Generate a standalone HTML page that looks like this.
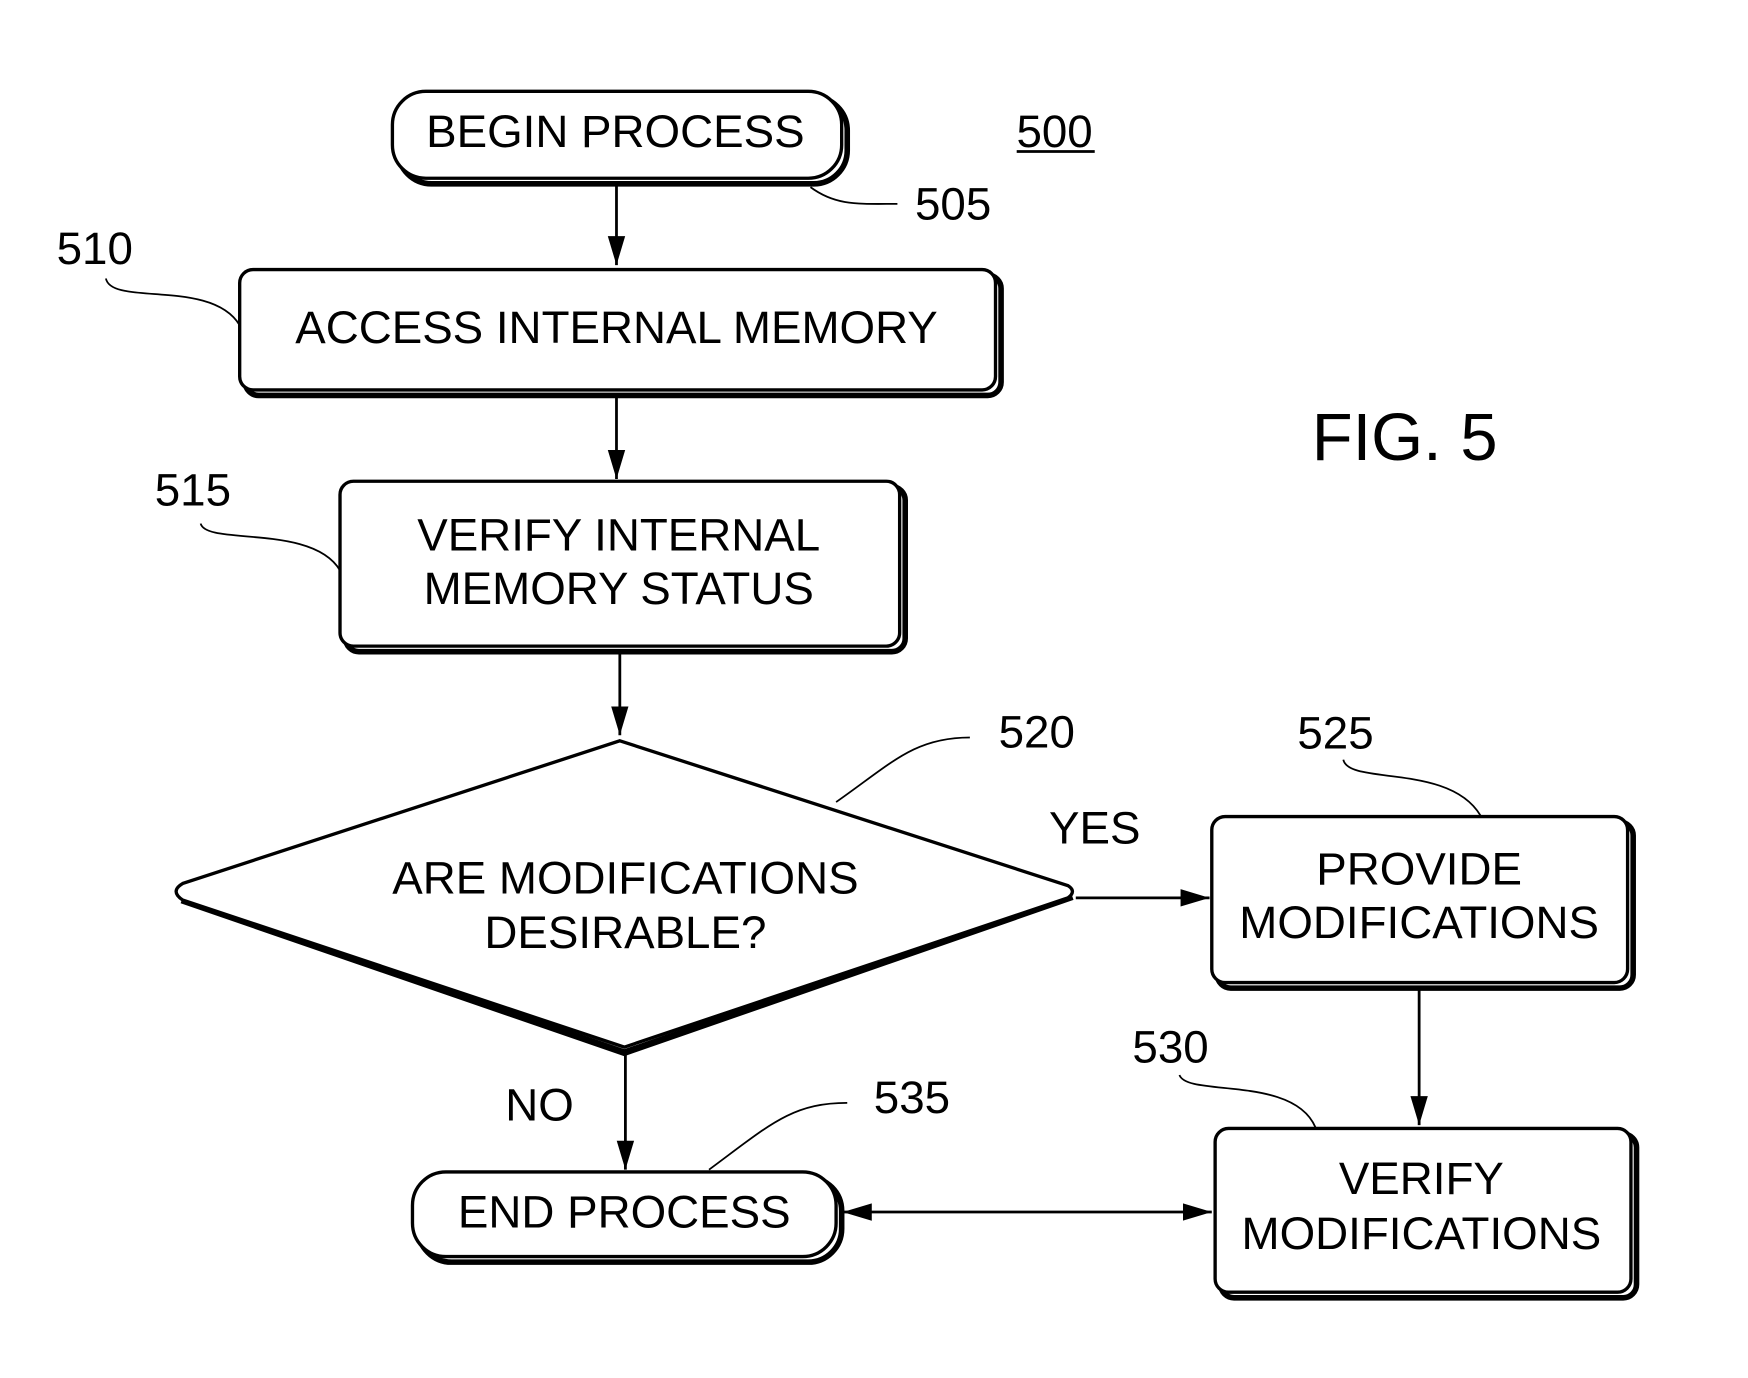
<!DOCTYPE html>
<html><head><meta charset="utf-8"><style>html,body{margin:0;padding:0;background:#fff}svg{display:block}</style></head>
<body>
<svg width="1748" height="1378" viewBox="0 0 1568 1237" preserveAspectRatio="none" xmlns="http://www.w3.org/2000/svg" font-family="Liberation Sans, Arial, sans-serif" fill="none" stroke="#000">
<defs>
<marker id="b" viewBox="0 0 10 10" refX="10" refY="5" markerWidth="26" markerHeight="26" orient="auto-start-reverse" markerUnits="userSpaceOnUse"><path d="M0,2 L10,5 L0,8 z" fill="#000" stroke="none"/></marker></defs>
<g stroke-width="3">
<rect x="357" y="87" width="403" height="78" rx="30" stroke-width="5"/>
<rect x="220" y="247" width="678" height="108" rx="12" stroke-width="5"/>
<rect x="310" y="437" width="502" height="148" rx="12" stroke-width="5"/>
<rect x="1092" y="738" width="373" height="149" rx="12" stroke-width="5"/>
<rect x="1095" y="1018" width="373" height="147" rx="12" stroke-width="5"/>
<rect x="375" y="1057" width="380" height="76" rx="30" stroke-width="5"/>
<path d="M962,805 L560,945 L163,808" stroke-width="6"/>
<rect x="352" y="82" width="403" height="78" rx="30" fill="#fff"/>
<rect x="215" y="242" width="678" height="108" rx="12" fill="#fff"/>
<rect x="305" y="432" width="502" height="148" rx="12" fill="#fff"/>
<rect x="1087" y="733" width="373" height="149" rx="12" fill="#fff"/>
<rect x="1090" y="1013" width="373" height="147" rx="12" fill="#fff"/>
<rect x="370" y="1052" width="380" height="76" rx="30" fill="#fff"/>
<path d="M556,665 L958,795 Q966,800 958,806 L560,940 L164,808 Q152,800 164,793 Z" fill="#fff"/>
</g>
<g stroke-width="2.5">
<line x1="553" y1="165" x2="553" y2="238" marker-end="url(#b)"/>
<line x1="553" y1="355" x2="553" y2="430" marker-end="url(#b)"/>
<line x1="556" y1="585" x2="556" y2="660" marker-end="url(#b)"/>
<line x1="965" y1="806" x2="1085" y2="806" marker-end="url(#b)"/>
<line x1="1273" y1="887" x2="1273" y2="1010" marker-end="url(#b)"/>
<line x1="561" y1="945" x2="561" y2="1050" marker-end="url(#b)"/>
<line x1="756" y1="1088" x2="1087" y2="1088" marker-start="url(#b)" marker-end="url(#b)"/>
</g>
<g stroke-width="1.6">
<path d="M727,168 C750,185 770,183 805,183"/>
<path d="M95,250 C100,275 190,250 215,292"/>
<path d="M180,470 C185,490 280,470 305,512"/>
<path d="M750,720 C800,685 820,662 870,662"/>
<path d="M1205,682 C1210,705 1300,685 1328,732"/>
<path d="M1058,965 C1065,985 1160,965 1180,1012"/>
<path d="M636,1050 C690,1010 710,990 760,990"/>
</g>
<g fill="#000" stroke="none" font-size="41" text-anchor="middle">
<text x="552" y="132">BEGIN PROCESS</text>
<text x="553" y="308">ACCESS INTERNAL MEMORY</text>
<text x="555" y="494">VERIFY INTERNAL</text>
<text x="555" y="542">MEMORY STATUS</text>
<text x="561" y="802">ARE MODIFICATIONS</text>
<text x="561" y="851">DESIRABLE?</text>
<text x="1273" y="794">PROVIDE</text>
<text x="1273" y="842">MODIFICATIONS</text>
<text x="1275" y="1072">VERIFY</text>
<text x="1275" y="1121">MODIFICATIONS</text>
<text x="560" y="1102">END PROCESS</text>
<text x="982" y="757">YES</text>
<text x="484" y="1006">NO</text>
<text x="946" y="132">500</text>
<text x="855" y="197">505</text>
<text x="85" y="237">510</text>
<text x="173" y="454">515</text>
<text x="930" y="671">520</text>
<text x="1198" y="672">525</text>
<text x="1050" y="954">530</text>
<text x="818" y="999">535</text>
<text x="1260" y="413" font-size="60">FIG. 5</text>
</g>
<line x1="912" y1="136" x2="982" y2="136" stroke-width="2.5"/>
</svg>
</body></html>
